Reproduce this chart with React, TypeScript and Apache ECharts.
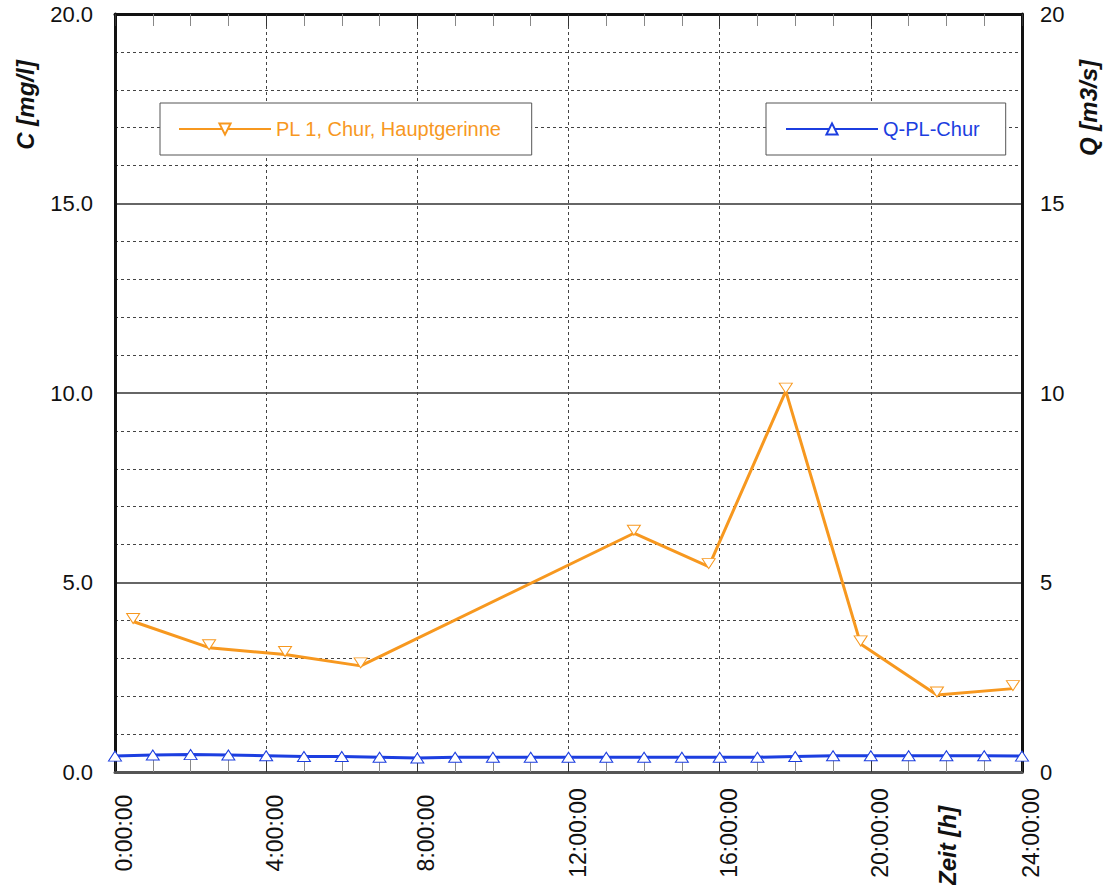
import React, { useEffect, useRef } from "react";
import * as echarts from "echarts";

const concHours = [0.48, 2.49, 4.5, 6.5, 13.73, 15.71, 17.75, 19.73, 21.75, 23.76];
const concValues = [3.97, 3.28, 3.1, 2.8, 6.3, 5.42, 10.05, 3.38, 2.03, 2.2];
const flowHours = [0, 1, 2, 3, 4, 5, 6, 7, 8, 9, 10, 11, 12, 13, 14, 15, 16, 17, 18, 19, 20, 21, 22, 23, 24];
const flowValues = [0.42, 0.45, 0.46, 0.45, 0.43, 0.41, 0.41, 0.39, 0.37, 0.39, 0.39, 0.39, 0.39, 0.39, 0.39, 0.39, 0.39, 0.39, 0.41, 0.43, 0.43, 0.43, 0.43, 0.43, 0.42];
const concName = "PL 1, Chur, Hauptgerinne";
const flowName = "Q-PL-Chur";
const leftTitle = "C [mg/l]";
const rightTitle = "Q [m3/s]";
const xTitle = "Zeit [h]";

const ORANGE = "#f7981f";
const BLUE = "#1c3ee0";
const FONT = "Liberation Sans, Arial, sans-serif";

export default function App() {
  const ref = useRef<HTMLDivElement>(null);
  useEffect(() => {
    if (!ref.current) return;
    const chart = echarts.init(ref.current, null, { renderer: "svg" });
    const legendBase = {
      orient: "horizontal",
      itemWidth: 92,
      itemHeight: 14,
      itemGap: 10,
      borderColor: "#555",
      borderWidth: 1,
      backgroundColor: "#fff",
      textStyle: { fontSize: 20, fontFamily: FONT },
      selectedMode: false,
    };
    const titleStyle = {
      fontSize: 24,
      fontWeight: "bold",
      fontStyle: "italic",
      fontFamily: FONT,
      fill: "#111",
      textAlign: "center",
      textVerticalAlign: "middle",
    };
    chart.setOption({
      animation: false,
      backgroundColor: "#fff",
      textStyle: { fontFamily: FONT },
      grid: { left: 115, right: 85, top: 14, bottom: 113, containLabel: false, outerBoundsMode: "none" },
      legend: [
        {
          ...legendBase,
          data: [concName],
          left: 160,
          top: 103,
          padding: [16, 30, 16, 18],
          textStyle: { ...legendBase.textStyle, color: ORANGE },
        },
        {
          ...legendBase,
          data: [flowName],
          left: 766,
          top: 103,
          padding: [16, 26, 16, 19],
          textStyle: { ...legendBase.textStyle, color: BLUE },
        },
      ],
      xAxis: [
        {
          type: "value",
          min: 0,
          max: 24,
          interval: 4,
          position: "bottom",
          axisLine: { show: true, onZero: false, lineStyle: { color: "#555", width: 3 } },
          axisTick: { show: true, inside: true, length: 12, lineStyle: { color: "#333", width: 1 } },
          minorTick: { show: true, splitNumber: 4, length: 12, lineStyle: { color: "#888", width: 1 } },
          splitLine: { show: true, lineStyle: { color: "#444", type: [3, 3], width: 1 } },
          axisLabel: {
            rotate: 90,
            fontSize: 23,
            lineHeight: 18,
            color: "#111",
            margin: 61,
            align: "center",
            verticalAlign: "top",
            formatter: (v: number) => `${v}:00:00`,
          },
        },
        {
          type: "value",
          min: 0,
          max: 24,
          interval: 4,
          position: "top",
          axisLine: { show: true, onZero: false, lineStyle: { color: "#111", width: 3 } },
          axisTick: { show: true, inside: true, length: 12, lineStyle: { color: "#333", width: 1 } },
          minorTick: { show: true, splitNumber: 4, length: 12, lineStyle: { color: "#888", width: 1 } },
          splitLine: { show: false },
          axisLabel: { show: false },
        },
      ],
      yAxis: [
        {
          type: "value",
          min: 0,
          max: 20,
          interval: 5,
          position: "left",
          axisLine: { show: true, onZero: false, lineStyle: { color: "#111", width: 3 } },
          axisTick: { show: false },
          splitLine: { show: true, lineStyle: { color: "#333", width: 1.5 } },
          minorTick: { show: false, splitNumber: 5 },
          minorSplitLine: { show: true, lineStyle: { color: "#444", type: [3, 3], width: 1 } },
          axisLabel: {
            fontSize: 22,
            color: "#111",
            margin: 22,
            formatter: (v: number) => v.toFixed(1),
          },
        },
        {
          type: "value",
          min: 0,
          max: 20,
          interval: 5,
          position: "right",
          axisLine: { show: true, onZero: false, lineStyle: { color: "#111", width: 3 } },
          axisTick: { show: false },
          splitLine: { show: false },
          axisLabel: { fontSize: 22, color: "#111", margin: 18 },
        },
      ],
      graphic: [
        { type: "text", x: 25, y: 105, rotation: Math.PI / 2, style: { ...titleStyle, text: leftTitle } },
        { type: "text", x: 1088, y: 108, rotation: Math.PI / 2, style: { ...titleStyle, text: rightTitle } },
        { type: "text", x: 947, y: 846, rotation: Math.PI / 2, style: { ...titleStyle, text: xTitle } },
      ],
      series: [
        {
          name: concName,
          type: "line",
          xAxisIndex: 0,
          yAxisIndex: 0,
          data: concHours.map((h, i) => [h, concValues[i]]),
          symbol: "triangle",
          symbolRotate: 180,
          symbolSize: [13, 10],
          symbolOffset: [0, -3],
          showAllSymbol: true,
          itemStyle: { color: "#fff", borderColor: ORANGE, borderWidth: 1 },
          lineStyle: { color: ORANGE, width: 3 },
          z: 3,
        },
        {
          name: flowName,
          type: "line",
          xAxisIndex: 0,
          yAxisIndex: 1,
          data: flowHours.map((h, i) => [h, flowValues[i]]),
          symbol: "triangle",
          symbolSize: [13, 10],
          showAllSymbol: true,
          itemStyle: { color: "#fff", borderColor: BLUE, borderWidth: 1 },
          lineStyle: { color: BLUE, width: 3 },
          z: 3,
        },
      ],
    });
    return () => chart.dispose();
  }, []);
  return <div ref={ref} style={{ width: 1107, height: 885, position: "absolute", left: 0, top: 0 }} />;
}
